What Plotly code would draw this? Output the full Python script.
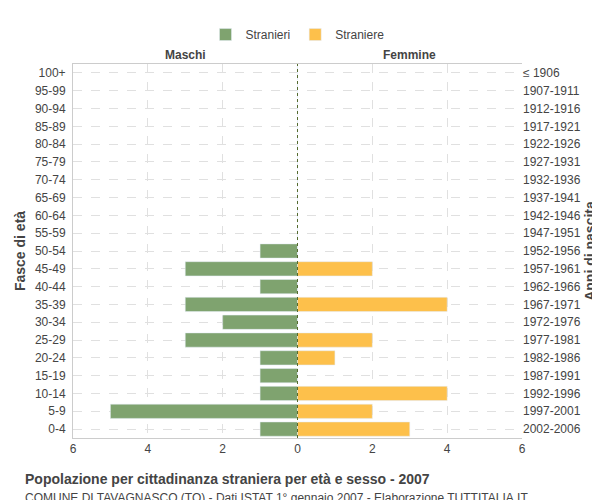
import plotly.graph_objects as go

eta = ["0-4", "5-9", "10-14", "15-19", "20-24", "25-29", "30-34", "35-39", "40-44", "45-49",
       "50-54", "55-59", "60-64", "65-69", "70-74", "75-79", "80-84", "85-89", "90-94", "95-99", "100+"]
anni = ["2002-2006", "1997-2001", "1992-1996", "1987-1991", "1982-1986", "1977-1981", "1972-1976",
        "1967-1971", "1962-1966", "1957-1961", "1952-1956", "1947-1951", "1942-1946", "1937-1941",
        "1932-1936", "1927-1931", "1922-1926", "1917-1921", "1912-1916", "1907-1911", "≤ 1906"]
maschi = [1, 5, 1, 1, 1, 3, 2, 3, 1, 3, 1, 0, 0, 0, 0, 0, 0, 0, 0, 0, 0]
femmine = [3, 2, 4, 0, 1, 2, 0, 4, 0, 2, 0, 0, 0, 0, 0, 0, 0, 0, 0, 0, 0]

fig = go.Figure()
fig.add_trace(go.Bar(y=eta, x=[-v for v in maschi], orientation="h", name="Stranieri",
                     marker=dict(color="#7fa36f"), width=0.8))
fig.add_trace(go.Bar(y=eta, x=femmine, orientation="h", name="Straniere",
                     marker=dict(color="#fdc04b"), width=0.8))
fig.add_trace(go.Scatter(y=anni, x=[0] * len(anni), yaxis="y2", mode="markers",
                         marker=dict(opacity=0), showlegend=False, hoverinfo="skip"))

fig.add_shape(type="line", x0=0, x1=0, y0=0, y1=1, yref="paper", xref="x",
              line=dict(color="#556b2f", width=1, dash="dot"))

grid = dict(showgrid=True, gridcolor="#e0e0e0", griddash="dash")
fig.update_layout(
    width=600, height=500, barmode="relative", bargap=0.2,
    plot_bgcolor="white", paper_bgcolor="white",
    font=dict(family="Liberation Sans, Arial", size=12, color="#444"),
    margin=dict(l=52, r=80, t=45, b=70),
    legend=dict(orientation="h", x=0.5, xanchor="center", y=1.04, yanchor="bottom",
                font=dict(size=12)),
    xaxis=dict(range=[-6, 6], tickvals=[-6, -4, -2, 0, 2, 4, 6],
               ticktext=["6", "4", "2", "0", "2", "4", "6"], zeroline=False,
               showline=True, linecolor="#ccc", mirror=True, **grid),
    yaxis=dict(type="category", categoryorder="array", categoryarray=eta, range=[-0.5, 20.5],
               title=dict(text="<b>Fasce di età</b>", standoff=5), **grid,
               showline=True, linecolor="#ccc", ticks="outside", ticklen=4, tickcolor="#fff"),
    yaxis2=dict(type="category", categoryorder="array", categoryarray=anni, range=[-0.5, 20.5],
                overlaying="y", side="right", showgrid=False,
                title=dict(text="<b>Anni di nascita</b>", standoff=5)),
    annotations=[
        dict(text="<b>Maschi</b>", x=-3, y=1.0, xref="x", yref="paper", yanchor="bottom",
             showarrow=False, font=dict(size=12, color="#444")),
        dict(text="<b>Femmine</b>", x=3, y=1.0, xref="x", yref="paper", yanchor="bottom",
             showarrow=False, font=dict(size=12, color="#444")),
        dict(text="<b>Popolazione per cittadinanza straniera per età e sesso - 2007</b>",
             x=-0.111, y=-0.109, xref="paper", yref="paper", xanchor="left", yanchor="middle",
             showarrow=False, font=dict(size=14, color="#444")),
        dict(text="COMUNE DI TAVAGNASCO (TO) - Dati ISTAT 1° gennaio 2007 - Elaborazione TUTTITALIA.IT",
             x=-0.111, y=-0.161, xref="paper", yref="paper", xanchor="left", yanchor="middle",
             showarrow=False, font=dict(size=12, color="#444")),
    ],
)
fig.write_html("out.html")
